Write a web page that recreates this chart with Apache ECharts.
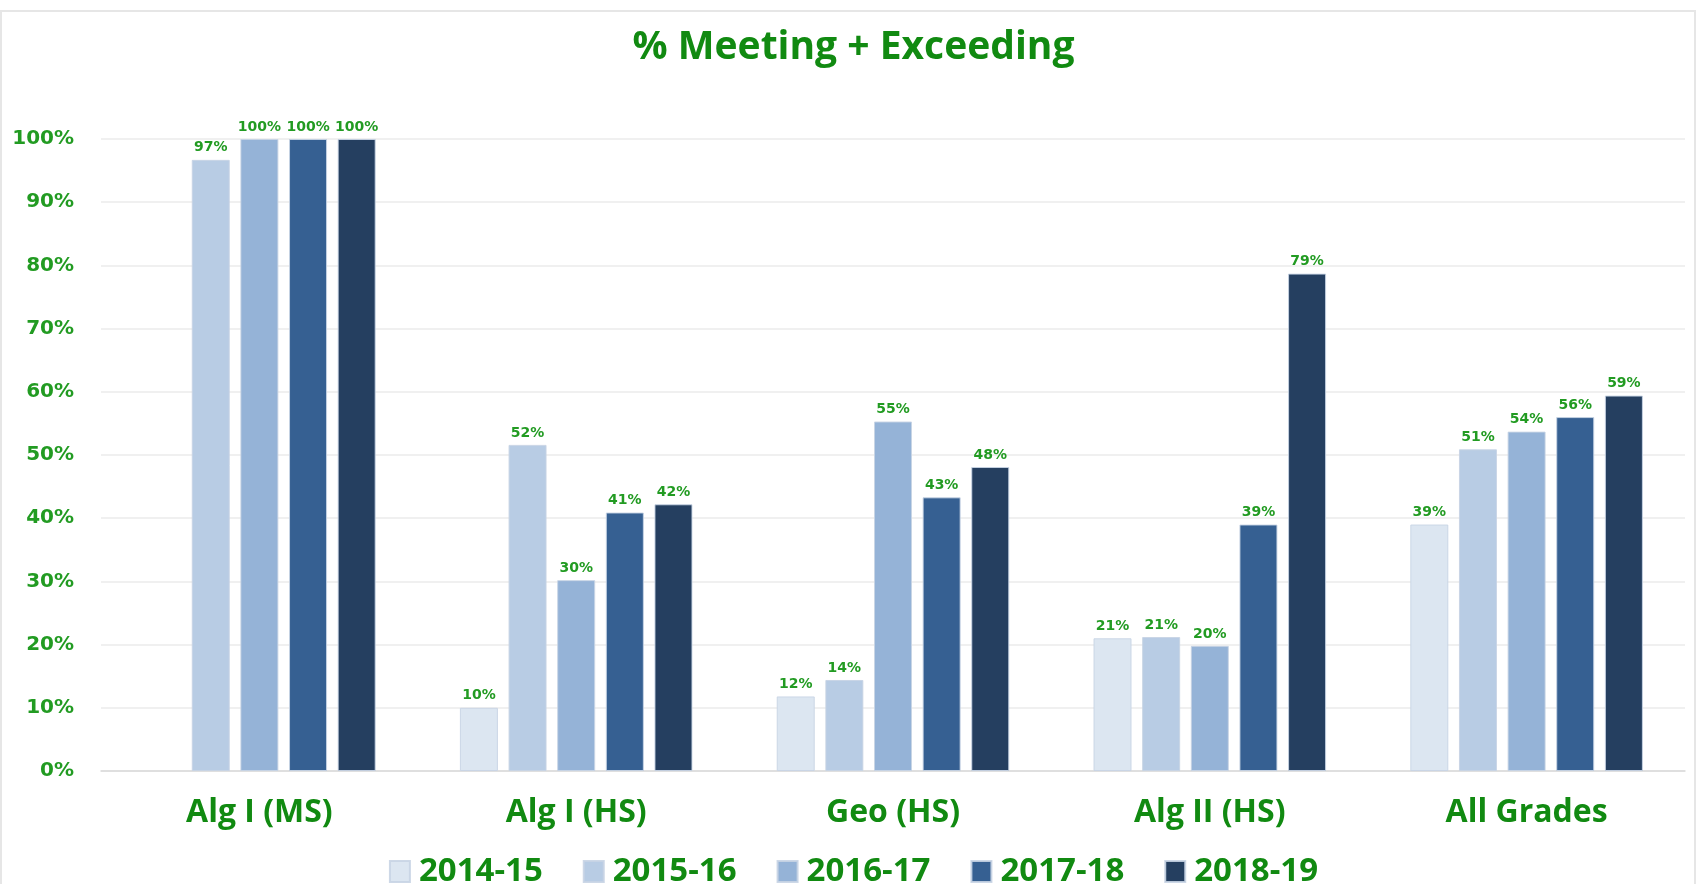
<!DOCTYPE html>
<html>
<head>
<meta charset="utf-8">
<script src="https://cdn.jsdelivr.net/npm/echarts@6/dist/echarts.min.js"></script>
<style>
html,body{margin:0;padding:0;background:#fff;}
#chart{width:1707px;height:884px;}
</style>
</head>
<body>
<div id="chart"></div>
<script>
const categories = ['Alg I (MS)', 'Alg I (HS)', 'Geo (HS)', 'Alg II (HS)', 'All Grades'];
const seriesNames = ['2014-15', '2015-16', '2016-17', '2017-18', '2018-19'];
const s2014_15 = [null, 10.0, 11.8, 21.0, 39.0];
const s2015_16 = [96.7, 51.6, 14.4, 21.2, 50.9];
const s2016_17 = [100, 30.2, 55.3, 19.8, 53.7];
const s2017_18 = [100, 40.9, 43.3, 39.0, 56.0];
const s2018_19 = [100, 42.2, 48.1, 78.7, 59.4];
const yTicks = [0, 10, 20, 30, 40, 50, 60, 70, 80, 90, 100];

const seriesData = [s2014_15, s2015_16, s2016_17, s2017_18, s2018_19];
const colors = ['#dce6f1', '#b8cce4', '#95b3d7', '#366092', '#253f60'];
const bigGreen = '#118a11';
const smallGreen = '#229b22';

const chart = echarts.init(document.getElementById('chart'), null, {renderer: 'canvas'});
chart.setOption({
  animation: false,
  backgroundColor: '#ffffff',
  graphic: [{
    type: 'rect',
    shape: {x: 1, y: 11, width: 1694, height: 900},
    style: {fill: 'none', stroke: '#e6e6e6', lineWidth: 2},
    silent: true
  }],
  title: {
    text: '% Meeting + Exceeding',
    left: 'center',
    top: 23,
    textStyle: {fontFamily: 'Open Sans', fontWeight: 'bold', fontSize: 39, color: bigGreen}
  },
  legend: {
    data: seriesNames,
    left: 'center',
    top: 850,
    itemWidth: 20,
    itemHeight: 21,
    itemGap: 40,
    icon: 'rect',
    textStyle: {fontFamily: 'Open Sans', fontWeight: 'bold', fontSize: 33, color: bigGreen, padding: [0, 0, 0, 4]}
  },
  grid: {left: 101, right: 22, top: 139, bottom: 113, containLabel: false},
  xAxis: {
    type: 'category',
    data: categories,
    axisTick: {show: false},
    axisLine: {lineStyle: {color: '#d9d9d9', width: 1.5}},
    axisLabel: {fontFamily: 'Open Sans', fontWeight: 'bold', fontSize: 32, color: bigGreen, margin: 26}
  },
  yAxis: {
    type: 'value',
    min: yTicks[0],
    max: yTicks[yTicks.length - 1],
    interval: 10,
    axisLine: {show: false},
    axisTick: {show: false},
    splitLine: {lineStyle: {color: '#ebebeb', width: 1.5}},
    axisLabel: {
      fontFamily: 'DejaVu Sans', fontWeight: 'bold', fontSize: 20, color: smallGreen, margin: 27,
      formatter: v => v + '%'
    }
  },
  series: seriesNames.map((name, i) => ({
    name: name,
    type: 'bar',
    data: seriesData[i],
    barWidth: 38,
    barGap: '28%',
    itemStyle: {color: colors[i], borderColor: 'rgba(200,212,228,0.9)', borderWidth: 1},
    label: {
      show: true,
      position: 'top',
      distance: 5,
      fontFamily: 'DejaVu Sans',
      fontWeight: 'bold',
      fontSize: 14,
      color: smallGreen,
      formatter: p => Math.round(p.value) + '%'
    }
  }))
});
</script>
</body>
</html>
